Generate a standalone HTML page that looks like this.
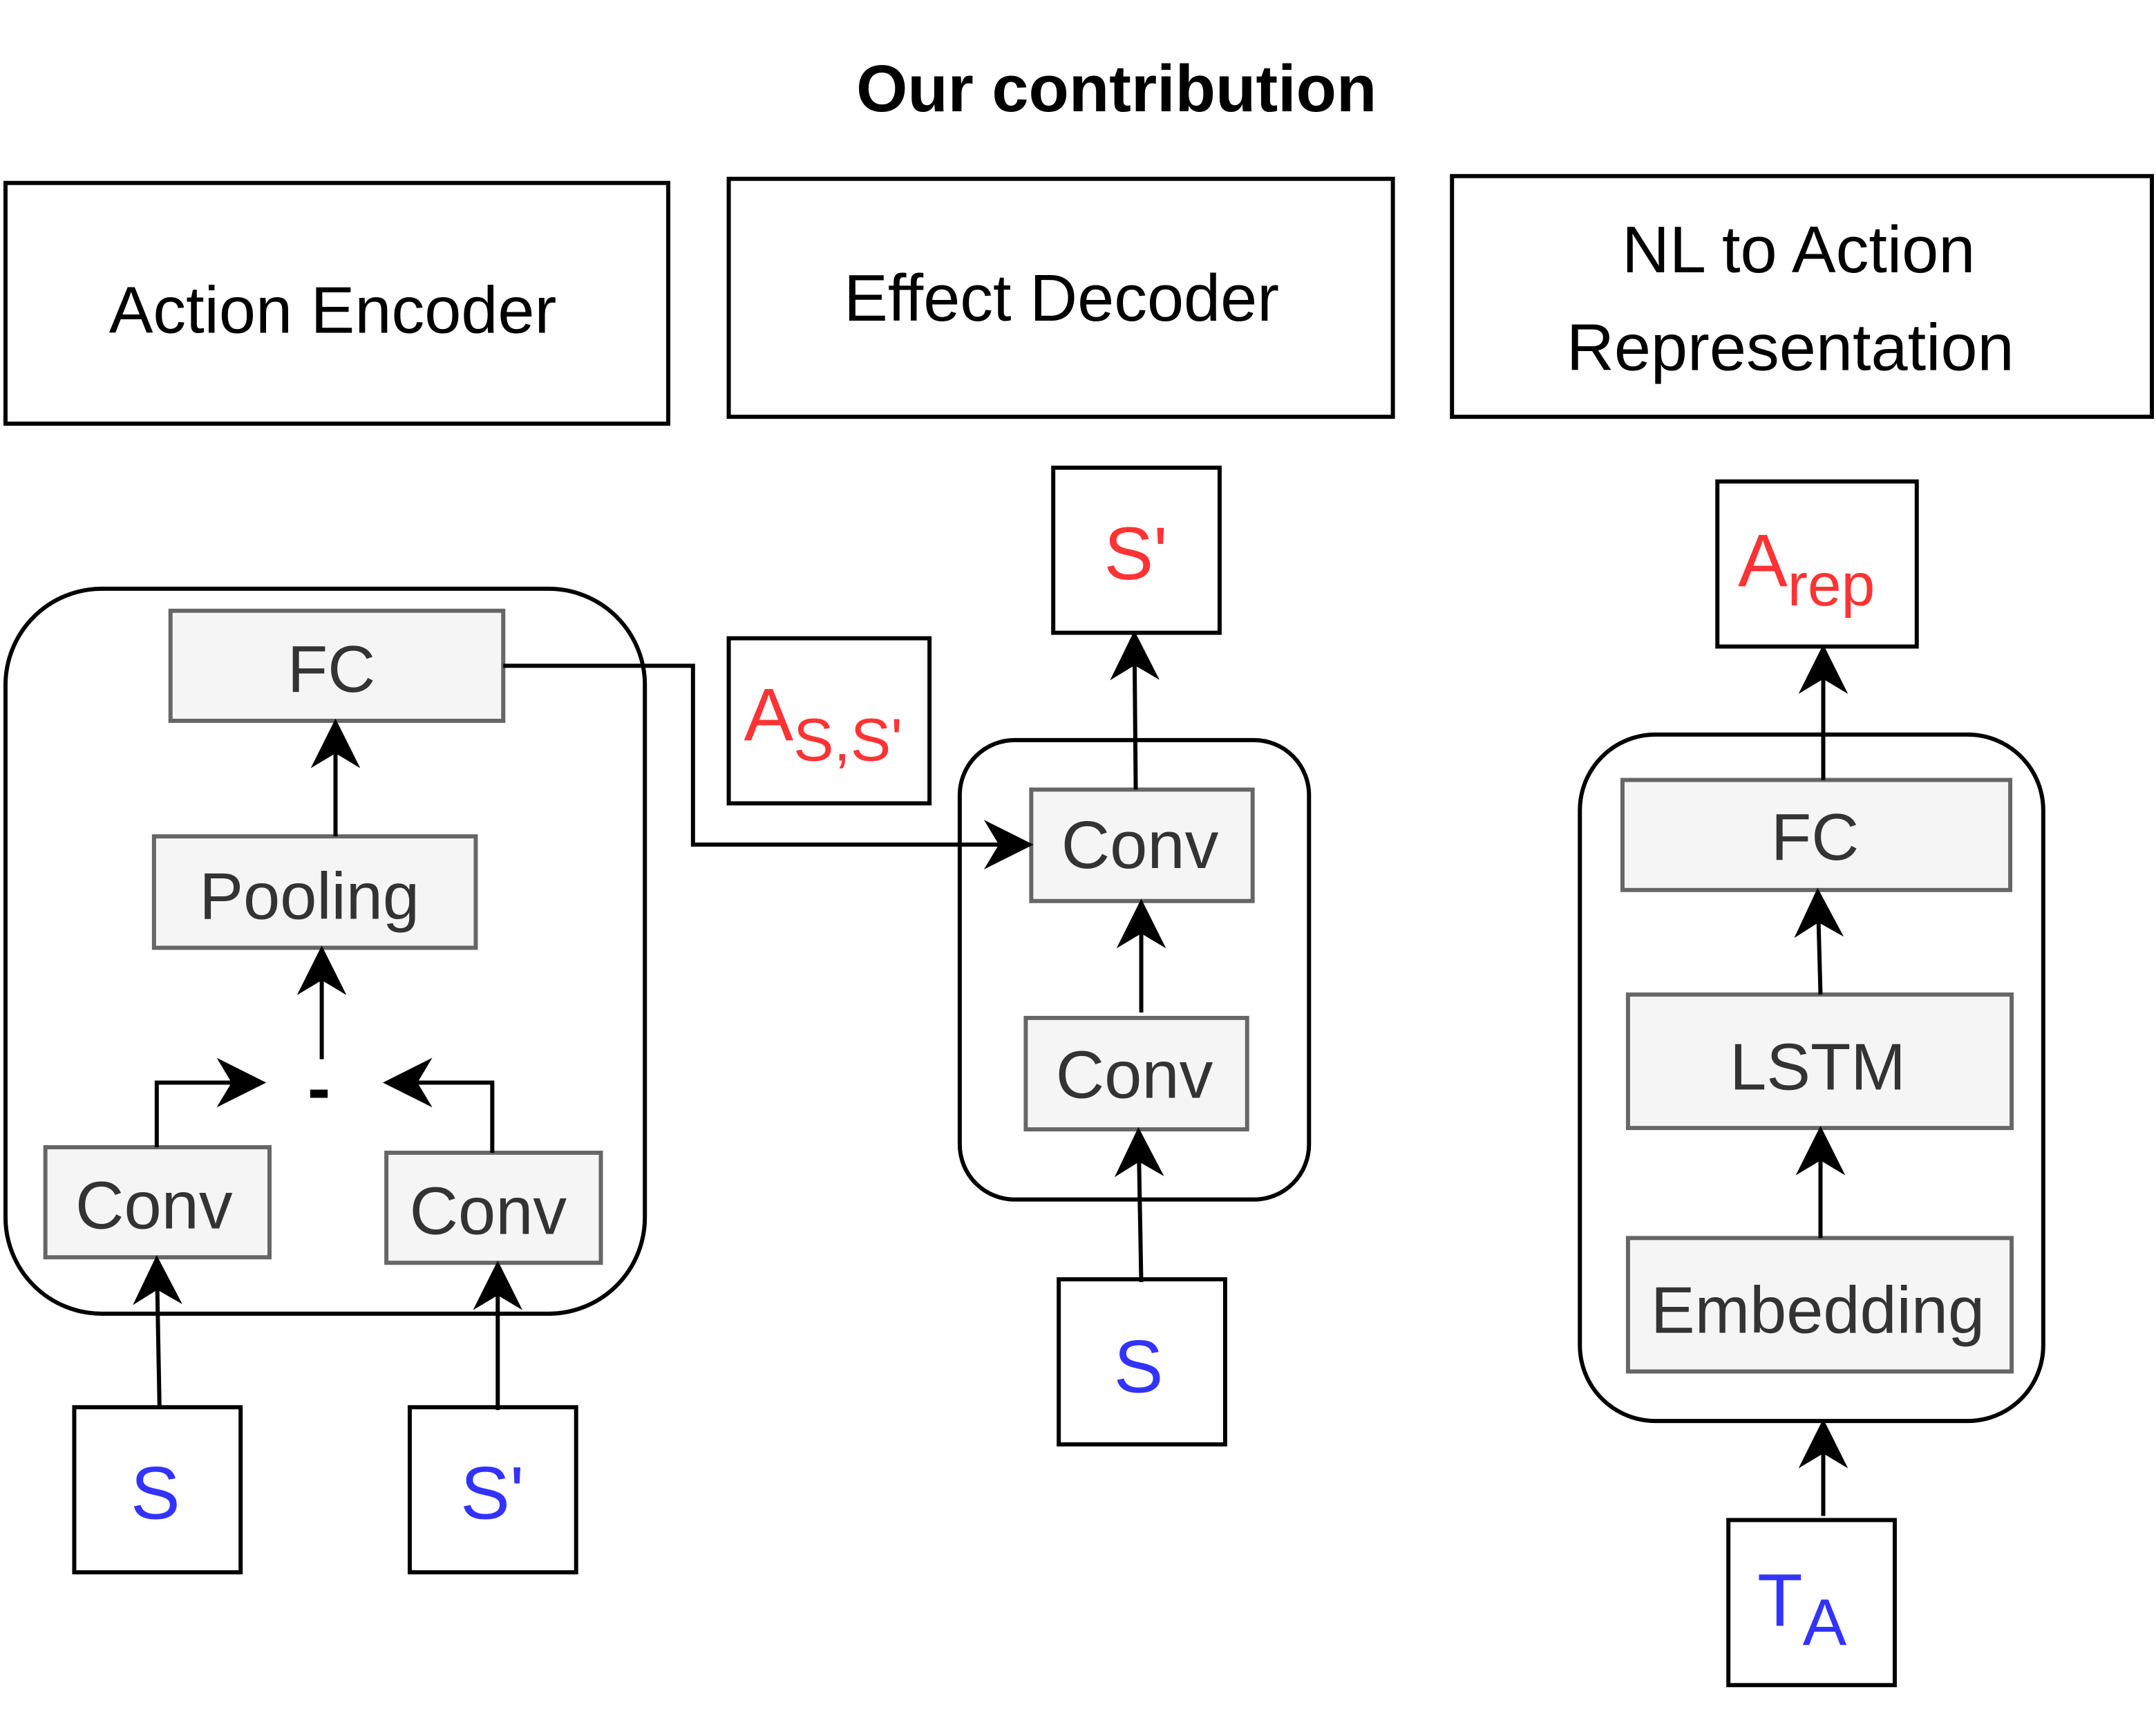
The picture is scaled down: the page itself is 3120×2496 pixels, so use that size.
<!DOCTYPE html>
<html><head><meta charset="utf-8"><style>
html,body{margin:0;padding:0;background:#fff}
svg{display:block}
text{font-family:"Liberation Sans",sans-serif}
</style></head><body>
<svg width="3120" height="2496" viewBox="0 0 1568 1254" preserveAspectRatio="none" xmlns="http://www.w3.org/2000/svg">
<defs>
<marker id="b" viewBox="0 0 20 20" refX="18" refY="10" markerWidth="36" markerHeight="36" markerUnits="userSpaceOnUse" orient="auto">
<path d="M0,0 L20,10 L0,20 L6,10 Z" fill="#000"/>
</marker>
</defs>
<g fill="none" stroke="#000" stroke-width="3">
<rect x="4" y="133" width="482" height="175"/>
<rect x="530" y="130" width="483" height="173"/>
<rect x="1056" y="128" width="509" height="175"/>
<rect x="4" y="428" width="465" height="527" rx="70"/>
<rect x="698" y="538" width="254" height="334" rx="40"/>
<rect x="1149" y="534" width="337" height="499" rx="55"/>
<rect x="54" y="1023" width="121" height="120"/>
<rect x="298" y="1023" width="121" height="120"/>
<rect x="530" y="464" width="146" height="120"/>
<rect x="766" y="340" width="121" height="120"/>
<rect x="770" y="930" width="121" height="120"/>
<rect x="1249" y="350" width="145" height="120"/>
<rect x="1257" y="1105" width="121" height="120"/>
</g>
<g fill="#f5f5f5" stroke="#666" stroke-width="3">
<rect x="124" y="444" width="242" height="80"/>
<rect x="112" y="608" width="234" height="81"/>
<rect x="33" y="834" width="163" height="80"/>
<rect x="281" y="838" width="156" height="80"/>
<rect x="750" y="574" width="161" height="81"/>
<rect x="746" y="740" width="161" height="81"/>
<rect x="1180" y="567" width="282" height="80"/>
<rect x="1184" y="723" width="279" height="97"/>
<rect x="1184" y="900" width="279" height="97"/>
</g>
<g fill="none" stroke="#000" stroke-width="3" marker-end="url(#b)">
<path d="M244,608 L244,526"/>
<path d="M234,770 L234,691"/>
<path d="M114,834 L114,787 L190,787"/>
<path d="M358,838 L358,787 L282,787"/>
<path d="M116,1023 L114,916"/>
<path d="M362,1025 L362,920"/>
<path d="M366,484 L504,484 L504,614 L748,614"/>
<path d="M830,736 L830,657"/>
<path d="M830,932 L828,823"/>
<path d="M826,574 L825,462"/>
<path d="M1324,723 L1322,649"/>
<path d="M1324,900 L1324,822"/>
<path d="M1326,567 L1326,472"/>
<path d="M1326,1102 L1326,1035"/>
</g>
<g font-size="48" text-anchor="middle" fill="#000">
<text x="812" y="81" font-weight="bold">Our contribution</text>
<text x="242" y="242">Action Encoder</text>
<text x="772" y="233">Effect Decoder</text>
<text x="1308" y="198">NL to Action</text>
<text x="1302" y="269">Representation</text>
</g>
<g font-size="48" text-anchor="middle" fill="#333">
<text x="241" y="503">FC</text>
<text x="225" y="668">Pooling</text>
<text x="112" y="893" font-size="49">Conv</text>
<text x="355" y="897" font-size="49">Conv</text>
<text x="829" y="631" font-size="49">Conv</text>
<text x="825" y="798" font-size="49">Conv</text>
<text x="1320" y="625">FC</text>
<text x="1322" y="792">LSTM</text>
<text x="1322" y="969">Embedding</text>
</g>
<text x="232" y="808" font-size="50" font-weight="bold" text-anchor="middle">-</text>
<g font-size="54" text-anchor="middle">
<text x="113" y="1104" fill="#3333ff">S</text>
<text x="358" y="1104" fill="#3333ff">S'</text>
<text x="828" y="1012" fill="#3333ff">S</text>
<text x="826" y="421" fill="#ff3333">S'</text>
</g>
<text x="541" y="538" font-size="54" fill="#ff3333">A<tspan font-size="44" dy="15">S,S'</tspan></text>
<text x="1264" y="426" font-size="54" fill="#ff3333">A<tspan font-size="44" dy="14">rep</tspan></text>
<text x="1278" y="1182" font-size="54" fill="#3333ff">T<tspan font-size="48" dy="14">A</tspan></text>
</svg>
</body></html>
